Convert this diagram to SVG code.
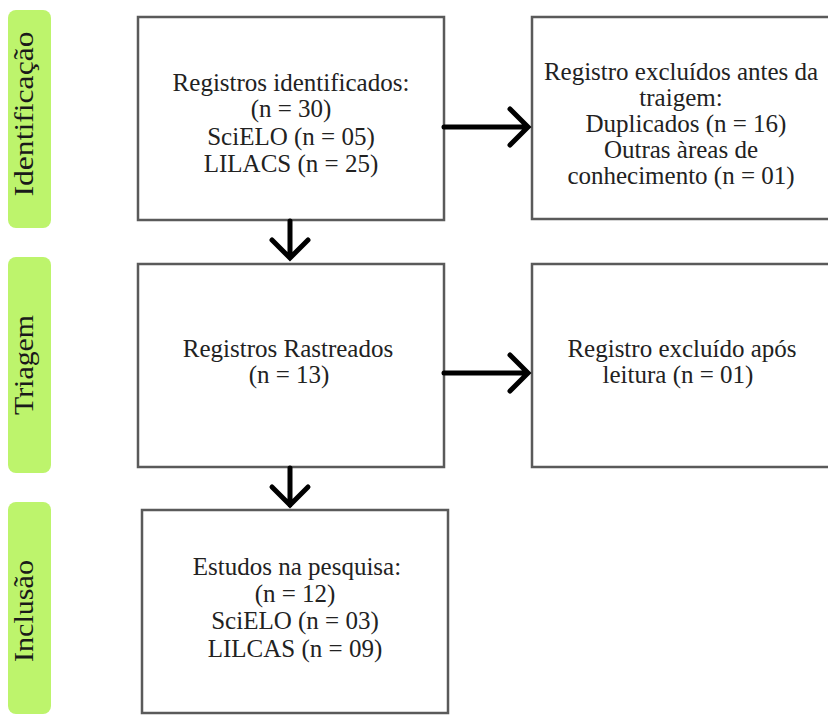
<svg xmlns="http://www.w3.org/2000/svg" width="828" height="716" viewBox="0 0 828 716">
<style>
.bar{fill:#bdf46c}
.box{fill:#fff;stroke:#5a5a5a;stroke-width:2.5}
.t{font-family:"Liberation Serif","Times New Roman",serif;font-size:25px;fill:#222;text-anchor:middle}
.lbl{font-family:"Liberation Serif","Times New Roman",serif;font-size:28px;fill:#1a1a1a;text-anchor:middle}
.arr{fill:none;stroke:#000;stroke-width:5;stroke-linecap:round;stroke-linejoin:miter}
</style>
<rect width="828" height="716" fill="#fff"/>
<g id="stage-identificacao">
<rect class="bar" x="8" y="10" width="43" height="218" rx="8"/>
<text class="lbl" transform="translate(33,114) rotate(-90)" textLength="165" lengthAdjust="spacingAndGlyphs">Identificação</text>
</g>
<g id="stage-triagem">
<rect class="bar" x="8" y="257" width="43" height="216" rx="8"/>
<text class="lbl" transform="translate(33,365) rotate(-90)" textLength="100" lengthAdjust="spacingAndGlyphs">Triagem</text>
</g>
<g id="stage-inclusao">
<rect class="bar" x="8" y="502" width="43" height="212" rx="8"/>
<text class="lbl" transform="translate(33,611) rotate(-90)" textLength="102" lengthAdjust="spacingAndGlyphs">Inclusão</text>
</g>
<g id="n-identificados">
<rect class="box" x="138" y="17" width="306" height="203"/>
<text class="t" x="291" y="91">Registros identificados:</text>
<text class="t" x="291" y="117">(n = 30)</text>
<text class="t" x="291" y="145">SciELO (n = 05)</text>
<text class="t" x="291" y="172">LILACS (n = 25)</text>
</g>
<g id="n-excluidos-antes">
<rect class="box" x="532" y="17" width="310" height="202"/>
<text class="t" x="681" y="80">Registro excluídos antes da</text>
<text class="t" x="681" y="106">traigem:</text>
<text class="t" x="686" y="132">Duplicados (n = 16)</text>
<text class="t" x="681" y="158">Outras àreas de</text>
<text class="t" x="681" y="184">conhecimento (n = 01)</text>
</g>
<g id="n-rastreados">
<rect class="box" x="138" y="264" width="306" height="203"/>
<text class="t" x="288" y="357">Registros Rastreados</text>
<text class="t" x="289" y="383">(n = 13)</text>
</g>
<g id="n-excluido-apos">
<rect class="box" x="532" y="264" width="310" height="203"/>
<text class="t" x="682" y="357">Registro excluído após</text>
<text class="t" x="678" y="383">leitura (n = 01)</text>
</g>
<g id="n-estudos">
<rect class="box" x="142" y="510" width="306" height="203"/>
<text class="t" x="297" y="575">Estudos na pesquisa:</text>
<text class="t" x="295" y="602">(n = 12)</text>
<text class="t" x="295" y="629">SciELO (n = 03)</text>
<text class="t" x="295" y="657">LILCAS (n = 09)</text>
</g>
<g id="connectors">
<path class="arr" d="M444 127H527M510 109L528 127L510 145"/>
<path class="arr" d="M444 373H527M510 355L528 373L510 391"/>
<path class="arr" d="M290 221V257M272 240L290 258L308 240"/>
<path class="arr" d="M290 468V505M272 487L290 505L308 487"/>
</g>
</svg>
